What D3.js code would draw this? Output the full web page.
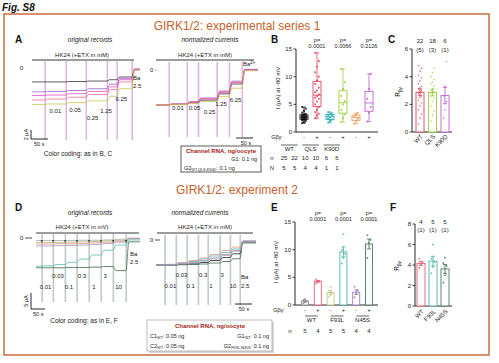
<!DOCTYPE html>
<html><head><meta charset="utf-8">
<script src="https://cdn.jsdelivr.net/npm/d3@7"></script>
<style>body{margin:0;background:#fff}svg{display:block}text{font-family:"Liberation Sans",Arial,sans-serif}</style>
</head><body><script>
// ================= DATA =================
// Panel A (series 1) trace levels per segment: [baseline, 0.01, 0.05, 0.25, 1.25, 6.25, Ba]
const concA = ["0.01", "0.05", "0.25", "1.25", "6.25"];
const appTimesA = [38, 100, 159, 221, 250, 294];      // s (application times, last = Ba2+)
const tEndA = 318;
const tracesA = [
  [-3.1, -3.1, -3.0, -2.9, -2.6, -2.0, -0.3],
  [-5.3, -5.2, -5.0, -4.6, -3.6, -2.3, -0.2],
  [-6.1, -6.0, -5.7, -5.2, -4.2, -2.6, -0.4],
  [-7.1, -6.9, -6.5, -5.9, -4.8, -3.1, -0.3],
  [-8.1, -8.0, -7.7, -7.3, -6.3, -4.6, -0.5]
];
const appTimesAn = [38, 91, 124, 179, 215, 253];
const tEndAn = 300;
const tracesAn = [
  [-1, -0.98, -0.94, -0.86, -0.68, -0.40, 0.0],
  [-1, -0.97, -0.90, -0.80, -0.60, -0.32, 0.02],
  [-1, -0.98, -0.92, -0.83, -0.64, -0.36, 0.01],
  [-1, -0.97, -0.91, -0.81, -0.62, -0.34, 0.0],
  [-1, -0.99, -0.96, -0.90, -0.76, -0.52, -0.02]
];
// Panel D (experiment 2): [baseline, 0.01, 0.03, 0.1, 0.3, 1, 3, 10, Ba]
const concD = ["0.01", "0.03", "0.1", "0.3", "1", "3", "10"];
const appTimesD = [21, 61, 104, 146, 189, 232, 275, 321];
const tEndD = 371;
const tracesD = [
  [-0.8, -0.8, -0.8, -0.8, -0.7, -0.7, -0.6, -0.4, -0.1],
  [-1.9, -1.9, -1.8, -1.8, -1.7, -1.5, -1.3, -1.0, -0.2],
  [-1.4, -1.4, -1.4, -1.3, -1.2, -1.1, -0.9, -0.7, -0.1],
  [-2.5, -2.5, -2.4, -2.3, -2.2, -2.0, -1.7, -1.3, -0.2],
  [-8.8, -8.7, -8.3, -7.6, -6.6, -5.3, -3.8, -2.2, -0.6],
  [-9.3, -9.3, -9.3, -9.2, -9.2, -9.1, -8.9, -10.2, -1.2]
];
const appTimesDn = [26, 59, 91, 124, 153, 188, 218, 247];
const tEndDn = 294;
const tracesDn = [
  [-1, -1, -0.98, -0.95, -0.90, -0.82, -0.70, -0.55, -0.05],
  [-1, -0.97, -0.90, -0.82, -0.72, -0.58, -0.42, -0.28, -0.10],
  [-1, -0.98, -0.93, -0.86, -0.76, -0.64, -0.50, -0.36, -0.08],
  [-1, -1, -0.99, -0.98, -0.96, -0.92, -0.86, -0.75, -0.12],
  [-1, -0.99, -0.96, -0.92, -0.85, -0.76, -0.62, -0.45, -0.06],
  [-1, -0.98, -0.95, -0.90, -0.82, -0.72, -0.58, -0.42, -0.04]
];
// Panel B: I (uA) at -80 mV
const catsB = ["WT-", "WT+", "QLS-", "QLS+", "K90D-", "K90D+"];
const signsB = ["-", "+", "-", "+", "-", "+"];
const valuesB = [
  [1.6, 1.8, 2.0, 2.1, 2.2, 2.3, 2.3, 2.4, 2.5, 2.5, 2.6, 2.6, 2.7, 2.7, 2.8, 2.9, 3.0, 3.0, 3.1, 3.2, 3.3, 3.5, 3.8, 4.2, 4.5],
  [2.5, 3.0, 3.3, 3.6, 4.0, 4.5, 5.0, 5.5, 6.0, 6.2, 6.5, 6.8, 7.2, 7.5, 8.0, 8.7, 9.3, 10.0, 10.8, 11.8, 12.8, 14.3],
  [1.7, 2.0, 2.2, 2.4, 2.6, 2.9, 3.0, 3.2, 3.4, 3.6],
  [1.8, 2.5, 3.2, 4.0, 5.0, 5.6, 6.5, 7.8, 9.0, 11.4],
  [1.5, 2.0, 2.4, 2.8, 3.1, 3.4],
  [1.9, 3.5, 4.5, 6.0, 7.8, 10.5]
];
const pB = ["0.0001", "0.0066", "0.2126"];
const groupsB = ["WT", "QLS", "K90D"];
const nB = ["25", "22", "10", "10", "6", "6"];
const NB = ["5", "5", "4", "4", "1", "1"];
// Panel C: R_bg
const catsC = ["WT", "QLS", "K90D"];
const valuesC = [
  [0.6, 1.0, 1.3, 1.6, 1.9, 2.1, 2.3, 2.5, 2.6, 2.8, 2.9, 3.0, 3.1, 3.2, 3.3, 3.5, 3.7, 3.9, 4.1, 4.4, 4.6, 4.8],
  [0.8, 1.2, 1.5, 1.9, 2.2, 2.4, 2.6, 2.8, 2.9, 3.0, 3.1, 3.3, 3.5, 3.6, 3.8, 4.0, 4.3, 4.6],
  [1.0, 1.6, 2.2, 2.6, 3.3, 5.1]
];
const nC = ["22", "18", "6"];
const NC = ["(5)", "(3)", "(1)"];
// Panel E
const catsE = ["WT-", "WT+", "F93L-", "F93L+", "N45S-", "N45S+"];
const signsE = ["-", "+", "-", "+", "-", "+"];
const valuesE = [
  [0.3, 0.5, 0.7, 0.9, 1.1],
  [3.9, 4.2, 4.4, 4.6],
  [1.5, 1.8, 2.2, 2.6, 3.2],
  [7.5, 8.5, 9.2, 10.0, 12.8],
  [1.4, 2.0, 2.6, 3.3],
  [8.5, 11.2, 11.8, 12.6]
];
const pE = ["0.0001", "0.0001", "0.0001"];
const groupsE = ["WT", "F93L", "N45S"];
const nE = ["5", "4", "5", "5", "4", "4"];
// Panel F
const catsF = ["WT", "F93L", "N45S"];
const valuesF = [
  [3.7, 4.0, 4.3, 4.6],
  [3.2, 3.8, 4.3, 4.6, 6.0],
  [2.3, 3.0, 3.9, 4.2, 4.7]
];
const nF = ["4", "5", "5"];
const NF = ["(1)", "(1)", "(1)"];

// ================= STYLE =================
const colA = ["#333333", "#9a62d2", "#e04cc0", "#f0708e", "#c8c84a"];
const lineColA = ["#d24aa8", "#a070d8"];
const colD = ["#a8a8a8", "#e09484", "#b8b47a", "#a890c4", "#5ab8b0", "#3f6a4c"];
const colDn = ["#222222", "#e09484", "#5ab8b0", "#3f6a4c", "#a8a8a8", "#a890c4"];
const lineColD = ["#4d6b58", "#8aa898"];
const colB = ["#111111", "#e8455a", "#2fb0b8", "#9ccf3a", "#f0a060", "#c060d0"];
const colC = ["#e04858", "#9ccf3a", "#c060d0"];
const colE = ["#8a8a8a", "#e8607a", "#c2c68a", "#4fb4ac", "#9a80b8", "#4a7a5a"];
const colF = ["#e86070", "#4fb4ac", "#4a7a5a"];
const ORANGE = "#c5622c";
const DARKRED = "#a41c14";

// ================= DRAW =================
const svg = d3.select("body").append("svg").attr("width", 499).attr("height", 363);

function txt(x, y, s, o = {}) {
  const t = svg.append("text").attr("x", x).attr("y", y).text(s)
    .attr("font-size", o.size || 6).attr("fill", o.fill || "#222")
    .attr("text-anchor", o.anchor || "start");
  if (o.weight) t.attr("font-weight", o.weight);
  if (o.style) t.attr("font-style", o.style);
  if (o.rotate != null) t.attr("transform", `rotate(${o.rotate},${x},${y})`);
  return t;
}
function sub(t, main, subs, rest, sz) {
  t.text(null);
  t.append("tspan").text(main);
  t.append("tspan").text(subs).attr("font-size", sz * 0.7).attr("dy", sz * 0.25);
  if (rest) t.append("tspan").text(rest).attr("dy", -sz * 0.25);
  return t;
}
function hline(x1, x2, y, c = "#222", w = 0.8) {
  svg.append("line").attr("x1", x1).attr("x2", x2).attr("y1", y).attr("y2", y).attr("stroke", c).attr("stroke-width", w);
}
function vline(x, y1, y2, c = "#222", w = 0.8) {
  svg.append("line").attr("x1", x).attr("x2", x).attr("y1", y1).attr("y2", y2).attr("stroke", c).attr("stroke-width", w);
}

// header
txt(2, 11, "Fig. S8", { size: 10, weight: "bold", style: "italic", fill: "#111" });
svg.append("rect").attr("x", 4).attr("y", 14).attr("width", 485).attr("height", 341)
  .attr("fill", "none").attr("stroke", ORANGE).attr("stroke-width", 1.4);
txt(237, 30, "GIRK1/2: experimental series 1", { size: 12, anchor: "middle", fill: ORANGE });
txt(237, 194, "GIRK1/2: experiment 2", { size: 12, anchor: "middle", fill: ORANGE });

// trace panels
function tracePanel(p) {
  const x = d3.scaleLinear().domain([0, p.tEnd]).range([p.x0, p.x1]);
  const y = d3.scaleLinear().domain([0, -1]).range([p.y0, p.y0 + p.pxPerUnit]);
  const g = svg.append("g");
  p.times.forEach(t => {
    p.lineColors.forEach((c, j) => {
      g.append("line").attr("x1", x(t) + j * 0.7).attr("x2", x(t) + j * 0.7)
        .attr("y1", p.lineTop).attr("y2", p.lineBottom)
        .attr("stroke", c).attr("stroke-width", 0.5).attr("opacity", 0.8);
    });
  });
  const bounds = [0, ...p.times, p.tEnd];
  const line = d3.line().x(d => x(d[0])).y(d => y(d[1])).curve(d3.curveMonotoneX);
  p.traces.forEach((lev, j) => {
    const pts = [];
    lev.forEach((v, i) => {
      const s = bounds[i], e = bounds[i + 1];
      if (i === 0) pts.push([s, v]);
      else pts.push([s + Math.min(p.ramp, (e - s) / 2), v]);
      pts.push([e, v]);
    });
    g.append("path").attr("d", line(pts)).attr("fill", "none")
      .attr("stroke", p.colors[j]).attr("stroke-width", 0.8);
  });
  p.conc.forEach((c, i) => {
    const mid = (bounds[i + 1] + bounds[i + 2]) / 2;
    txt(x(mid) + (p.labelDx ? p.labelDx[i] : 0), p.labelY[i], c, { size: 6, anchor: "middle", fill: "#222" });
  });
  return { x, y };
}

// ---- Panel A ----
txt(15, 43, "A", { size: 10, weight: "bold", fill: "#111" });
txt(90, 42, "original records", { size: 6.5, style: "italic", anchor: "middle" });
txt(210, 42, "normalized currents", { size: 6.5, style: "italic", anchor: "middle" });
txt(82, 57, "HK24 (+ETX in mM)", { size: 6, anchor: "middle" });
hline(32, 134, 60, "#222", 0.9);
txt(205, 57, "HK24 (+ETX in mM)", { size: 6, anchor: "middle" });
hline(156, 254, 60, "#222", 0.9);

const pA = tracePanel({
  x0: 32, x1: 140, tEnd: tEndA, times: appTimesA, traces: tracesA, colors: colA,
  lineColors: lineColA, lineTop: 61, lineBottom: 140, y0: 68, pxPerUnit: 4.5, ramp: 8,
  conc: concA, labelY: [113, 112, 120, 113, 101], labelDx: [0, -1, -4, -6, -3]
});
txt(20, 70, "0", { size: 6 });
txt(133, 80, "Ba", { size: 6 });
txt(133, 88, "2.5", { size: 6 });
{
  const sx = pA.x(50) - pA.x(0), sy = pA.y(-2) - pA.y(0);
  vline(31, 139 - sy, 139, "#111", 0.9);
  hline(31, 31 + sx, 139, "#111", 0.9);
  txt(28, 139 - sy / 2, "2 µA", { size: 5.5, anchor: "middle", rotate: -90 });
  txt(34, 146, "50 s", { size: 5.5 });
}
txt(78, 156, "Color coding: as in B, C", { size: 6.5, anchor: "middle" });

const pAn = tracePanel({
  x0: 156, x1: 258, tEnd: tEndAn, times: appTimesAn, traces: tracesAn, colors: colA,
  lineColors: lineColA, lineTop: 62, lineBottom: 137, y0: 70, pxPerUnit: 35, ramp: 8,
  conc: concA, labelY: [110, 110, 114, 106, 102], labelDx: [0, 2, 2, -2, 0]
});
txt(150, 72, "0 -", { size: 6 });
{
  const t = txt(243, 66, "", { size: 6 });
  t.append("tspan").text("Ba");
  t.append("tspan").text("2+").attr("font-size", 4.5).attr("dy", -2.5);
  const sx = pAn.x(50) - pAn.x(0);
  hline(253 - sx, 253, 138, "#111", 0.9);
  txt(246, 145, "50 s", { size: 5.5, anchor: "middle" });
}

// Channel RNA box 1
svg.append("rect").attr("x", 181).attr("y", 146).attr("width", 80).attr("height", 26)
  .attr("fill", "#fff").attr("stroke", "#333").attr("stroke-width", 0.8);
txt(221, 153, "Channel RNA, ng/oocyte", { size: 6, weight: "bold", anchor: "middle", fill: DARKRED });
txt(257, 161, "G1: 0.1 ng", { size: 5.5, anchor: "end" });
sub(txt(184, 170, "", { size: 5.5 }), "G2", "WT,QLS,K90D", ": 0.1 ng", 5.5);

// ---- Panel B ----
txt(271, 43, "B", { size: 10, weight: "bold", fill: "#111" });
const yB = d3.scaleLinear().domain([0, 15]).range([132, 49]);
const xB = d3.scalePoint().domain(catsB).range([304, 369]);
function yAxis(x0, yS, ticks) {
  vline(x0, yS.range()[0], yS.range()[1], "#111", 0.9);
  ticks.forEach(t => {
    hline(x0 - 2.5, x0, yS(t), "#111", 0.8);
    txt(x0 - 4, yS(t) + 2, String(t), { size: 6, anchor: "end" });
  });
}
yAxis(296, yB, [0, 5, 10, 15]);
hline(296, 378, 132, "#111", 0.9);
txt(280, 88, "I (µA) at -80 mV", { size: 6, anchor: "middle", rotate: -90 });
catsB.forEach((c, i) => {
  const v = valuesB[i].slice().sort(d3.ascending);
  const q1 = d3.quantile(v, 0.25), med = d3.quantile(v, 0.5), q3 = d3.quantile(v, 0.75);
  const lo = d3.min(v), hi = d3.max(v);
  const cx = xB(c), w = 8, col = colB[i];
  vline(cx, yB(hi), yB(q3), col, 0.8);
  vline(cx, yB(q1), yB(lo), col, 0.8);
  hline(cx - 2, cx + 2, yB(hi), col, 0.8);
  hline(cx - 2, cx + 2, yB(lo), col, 0.8);
  svg.append("rect").attr("x", cx - w / 2).attr("y", yB(q3)).attr("width", w).attr("height", yB(q1) - yB(q3))
    .attr("fill", "none").attr("stroke", col).attr("stroke-width", 0.9);
  hline(cx - w / 2, cx + w / 2, yB(med), col, 0.9);
  v.forEach((d, k) => {
    svg.append("circle").attr("cx", cx + ((k % 3) - 1) * 1.8).attr("cy", yB(d)).attr("r", 1.1)
      .attr("fill", col).attr("opacity", 0.85);
  });
  txt(cx, 139, signsB[i], { size: 6, anchor: "middle" });
});
txt(277, 139, "Gβγ:", { size: 5.5, anchor: "middle" });
pB.forEach((p, i) => {
  const cx = xB(catsB[2 * i + 1]);
  txt(cx, 42, "p=", { size: 5.5, anchor: "middle" });
  txt(cx, 48, p, { size: 5.5, anchor: "middle" });
});
{
  const xs = d3.scalePoint().domain(d3.range(6)).range([284, 337]);
  groupsB.forEach((gname, i) => {
    const a = xs(2 * i), b = xs(2 * i + 1);
    hline(a - 3, b + 3, 145, "#222", 0.7);
    txt((a + b) / 2, 151, gname, { size: 6, anchor: "middle" });
  });
  txt(272, 160, "n", { size: 6, anchor: "middle" });
  txt(272, 170, "N", { size: 6, anchor: "middle" });
  nB.forEach((n, i) => txt(xs(i), 160, n, { size: 6, anchor: "middle" }));
  NB.forEach((n, i) => txt(xs(i), 170, n, { size: 6, anchor: "middle" }));
}

function barPanel(o) {
  o.cats.forEach((c, i) => {
    const v = o.values[i];
    const m = d3.mean(v), se = d3.deviation(v) / Math.sqrt(v.length);
    const cx = o.x(c), col = o.colors[i], w = o.w;
    svg.append("rect").attr("x", cx - w / 2).attr("y", o.y(m)).attr("width", w).attr("height", o.y(0) - o.y(m))
      .attr("fill", "#fff").attr("stroke", col).attr("stroke-width", 0.9);
    vline(cx, o.y(m + se), o.y(m - se), col, 0.9);
    hline(cx - 2, cx + 2, o.y(m + se), col, 0.9);
    hline(cx - 2, cx + 2, o.y(m - se), col, 0.9);
    v.forEach((d, k) => {
      svg.append("circle").attr("cx", cx + ((k % 3) - 1) * o.jit).attr("cy", o.y(d)).attr("r", o.r)
        .attr("fill", col).attr("opacity", 0.8);
    });
  });
}

// ---- Panel C ----
txt(388, 43, "C", { size: 10, weight: "bold", fill: "#111" });
const yC = d3.scaleLinear().domain([0, 6]).range([132, 49]);
const xC = d3.scalePoint().domain(catsC).range([420, 445]);
yAxis(412, yC, [0, 2, 4, 6]);
hline(412, 452, 132, "#111", 0.9);
sub(txt(400, 92, "", { size: 6.5, anchor: "middle", rotate: -90 }), "R", "βγ", null, 6.5);
barPanel({ cats: catsC, values: valuesC, colors: colC, x: xC, y: yC, w: 8, r: 0.8, jit: 1.5 });
catsC.forEach((c, i) => {
  txt(xC(c), 43, nC[i], { size: 6, anchor: "middle" });
  txt(xC(c), 52, NC[i], { size: 6, anchor: "middle" });
  txt(xC(c) + 3, 137, c, { size: 6, anchor: "end", rotate: -45 });
});

// ---- Panel D ----
txt(15, 211, "D", { size: 10, weight: "bold", fill: "#111" });
txt(90, 215, "original records", { size: 6.5, style: "italic", anchor: "middle" });
txt(200, 215, "normalized currents", { size: 6.5, style: "italic", anchor: "middle" });
txt(82, 229, "HK24 (+ETX in mV)", { size: 6, anchor: "middle" });
hline(36, 139, 233, "#222", 0.9);
txt(205, 229, "HK24 (+ETX in mM)", { size: 6, anchor: "middle" });
hline(157, 253, 233, "#222", 0.9);

const pD = tracePanel({
  x0: 36, x1: 140, tEnd: tEndD, times: appTimesD, traces: tracesD, colors: colD,
  lineColors: lineColD, lineTop: 234, lineBottom: 302, y0: 238, pxPerUnit: 3.2, ramp: 10,
  conc: concD, labelY: [289, 278, 289, 278, 289, 278, 289], labelDx: [-2, -1, -2, -1, -1, -2, -1]
});
appTimesD.forEach(t => {
  const xx = pD.x(t);
  svg.append("path").attr("d", `M${xx - 1.3},${240}L${xx + 1.3},${240}L${xx},${243}Z`).attr("fill", "#3f5a48");
});
txt(20, 240, "0", { size: 6 });
hline(25, 32, 238, "#222", 0.8);
txt(130, 256, "Ba", { size: 6 });
txt(130, 264, "2.5", { size: 6 });
{
  const sx = pD.x(50) - pD.x(0), sy = pD.y(-5) - pD.y(0);
  vline(31, 309 - sy, 309, "#111", 0.9);
  hline(31, 31 + sx, 309, "#111", 0.9);
  txt(28, 309 - sy / 2, "5 µA", { size: 5.5, anchor: "middle", rotate: -90 });
  txt(33, 316, "50 s", { size: 5.5 });
}
txt(84, 323, "Color coding: as in E, F", { size: 6.5, anchor: "middle" });

const pDn = tracePanel({
  x0: 156, x1: 256, tEnd: tEndDn, times: appTimesDn, traces: tracesDn, colors: colDn,
  lineColors: lineColD, lineTop: 235, lineBottom: 305, y0: 240, pxPerUnit: 25, ramp: 8,
  conc: concD, labelY: [288, 277, 288, 277, 288, 277, 288], labelDx: [0, 0, -2, 0, -3, -3, -2]
});
txt(150, 242, "0", { size: 6 });
hline(155, 160, 240, "#222", 0.8);
txt(241, 279, "Ba", { size: 6 });
txt(241, 288, "2.5", { size: 6 });
{
  const sx = pDn.x(50) - pDn.x(0);
  hline(252 - sx, 252, 304, "#111", 0.9);
  txt(244, 311, "50 s", { size: 5.5, anchor: "middle" });
}

// Channel RNA box 2
svg.append("rect").attr("x", 149).attr("y", 322).attr("width", 125).attr("height", 31)
  .attr("fill", "#d8d8d8");
svg.append("rect").attr("x", 147).attr("y", 320).attr("width", 125).attr("height", 31)
  .attr("fill", "#fff").attr("stroke", "#aaa").attr("stroke-width", 0.8);
txt(210, 328, "Channel RNA, ng/oocyte", { size: 6, weight: "bold", anchor: "middle", fill: DARKRED });
sub(txt(150, 338, "", { size: 5.5 }), "C1", "WT", ": 0.05 ng", 5.5);
sub(txt(150, 348, "", { size: 5.5 }), "C2", "WT", ": 0.05 ng", 5.5);
sub(txt(269, 338, "", { size: 5.5, anchor: "end" }), "G1", "WT", ":  0.1 ng", 5.5);
sub(txt(269, 348, "", { size: 5.5, anchor: "end" }), "G2", "F93L,N45S", ":  0.1 ng", 5.5);

// ---- Panel E ----
txt(271, 211, "E", { size: 10, weight: "bold", fill: "#111" });
const yE = d3.scaleLinear().domain([0, 15]).range([305, 222]);
const xE = d3.scalePoint().domain(catsE).range([305, 369]);
yAxis(295, yE, [0, 5, 10, 15]);
hline(295, 378, 305, "#111", 0.9);
txt(278, 262, "I (µA) at -80 mV", { size: 6, anchor: "middle", rotate: -90 });
barPanel({ cats: catsE, values: valuesE, colors: colE, x: xE, y: yE, w: 7, r: 1, jit: 1.6 });
catsE.forEach((c, i) => txt(xE(c), 312, signsE[i], { size: 6, anchor: "middle" }));
txt(279, 312, "Gβγ:", { size: 5.5, anchor: "middle" });
pE.forEach((p, i) => {
  const cx = xE(catsE[2 * i + 1]);
  txt(cx, 215, "p=", { size: 5.5, anchor: "middle" });
  txt(cx, 221, p, { size: 5.5, anchor: "middle" });
});
groupsE.forEach((gname, i) => {
  const a = xE(catsE[2 * i]), b = xE(catsE[2 * i + 1]);
  hline(a, b, 316, "#222", 0.7);
  txt((a + b) / 2, 322, gname, { size: 6, anchor: "middle" });
});
txt(290, 333, "n", { size: 6, anchor: "middle" });
nE.forEach((n, i) => txt(xE(catsE[i]), 333, n, { size: 6, anchor: "middle" }));

// ---- Panel F ----
txt(390, 211, "F", { size: 10, weight: "bold", fill: "#111" });
const yF = d3.scaleLinear().domain([0, 8]).range([306, 224]);
const xF = d3.scalePoint().domain(catsF).range([421, 445]);
yAxis(415, yF, [0, 2, 4, 6, 8]);
hline(415, 452, 306, "#111", 0.9);
sub(txt(399, 266, "", { size: 6.5, anchor: "middle", rotate: -90 }), "R", "βγ", null, 6.5);
barPanel({ cats: catsF, values: valuesF, colors: colF, x: xF, y: yF, w: 8, r: 1, jit: 1.6 });
catsF.forEach((c, i) => {
  txt(xF(c), 224, nF[i], { size: 6, anchor: "middle" });
  txt(xF(c), 232, NF[i], { size: 6, anchor: "middle" });
  txt(xF(c) + 3, 312, c, { size: 6, anchor: "end", rotate: -45 });
});
</script></body></html>
